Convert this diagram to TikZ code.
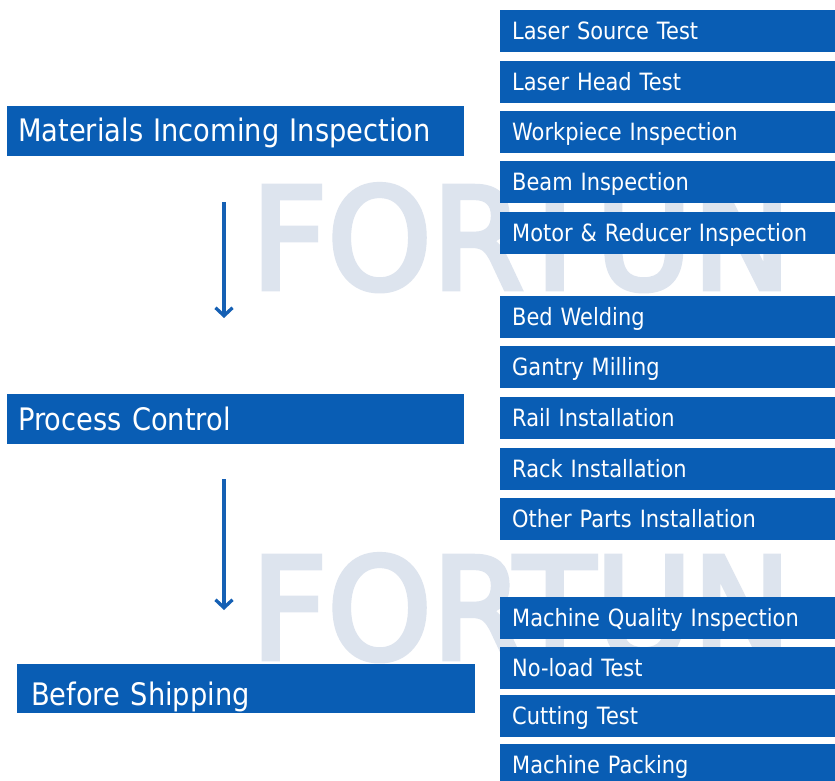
\documentclass[tikz,border=0pt]{standalone}
\usepackage{fontspec}
\setmainfont{DejaVu Sans}[FakeStretch=0.88]
\newfontfamily\wmfont{DejaVu Sans}[FakeStretch=0.94, FakeBold=3.5]
\usetikzlibrary{arrows.meta}
\definecolor{boxblue}{RGB}{9,93,180}
\definecolor{arrowblue}{RGB}{21,96,180}
\definecolor{wmark}{RGB}{221,228,238}
\tikzset{
  rbox/.style={fill=boxblue, text=white, anchor=north west, minimum width=335pt,
    minimum height=41.5pt, inner ysep=0pt, inner xsep=12pt, text width=311pt, align=left,
    font=\fontsize{23.8}{26}\selectfont, text height=20pt, text depth=3pt},
  lbox/.style={fill=boxblue, text=white, anchor=north west, minimum height=50pt,
    inner ysep=0pt, inner xsep=11pt, align=left,
    font=\fontsize{31}{34}\selectfont},
  flow/.style={draw=arrowblue, line width=3.3pt, -{Straight Barb[length=8pt,width=17pt]}},
  wm/.style={text=wmark, anchor=base west, inner sep=0pt, font=\wmfont\fontsize{141}{150}\selectfont}
}
\begin{document}
\begin{tikzpicture}[x=1pt,y=-1pt]
\useasboundingbox[fill=white] (0,0) rectangle (835,781);
% watermarks
\node[wm] (wm1) at (251,289) {FORTUN};
\node[wm] (wm2) at (251,659) {FORTUN};
% left boxes
\node[lbox, minimum width=457pt, text width=435pt, text height=32pt, text depth=10.6pt] (mat) at (7,106) {Materials Incoming Inspection};
\node[lbox, minimum width=457pt, text width=435pt, text height=33pt, text depth=10pt] (proc) at (7,394) {Process Control};
\node[lbox, minimum width=458pt, minimum height=49pt, inner xsep=14pt, text width=430pt, text height=36pt, text depth=3pt] (ship) at (17,664) {Before Shipping};
% arrows
\coordinate (a1s) at (224,202);
\coordinate (a1e) at (224,318);
\coordinate (a2s) at (224,479);
\coordinate (a2e) at (224,610);
\draw[flow] (a1s) -- (a1e);
\draw[flow] (a2s) -- (a2e);
% right boxes
\node[rbox] (r1) at (500,10) {Laser Source Test};
\node[rbox] (r2) at (500,61) {Laser Head Test};
\node[rbox] (r3) at (500,111) {Workpiece Inspection};
\node[rbox] (r4) at (500,161) {Beam Inspection};
\node[rbox] (r5) at (500,212) {Motor \& Reducer Inspection};
\node[rbox] (r6) at (500,296) {Bed Welding};
\node[rbox] (r7) at (500,346) {Gantry Milling};
\node[rbox] (r8) at (500,397) {Rail Installation};
\node[rbox] (r9) at (500,448) {Rack Installation};
\node[rbox] (r10) at (500,498) {Other Parts Installation};
\node[rbox] (r11) at (500,597) {Machine Quality Inspection};
\node[rbox] (r12) at (500,647) {No-load Test};
\node[rbox] (r13) at (500,695) {Cutting Test};
\node[rbox] (r14) at (500,744) {Machine Packing};
\end{tikzpicture}
\end{document}
